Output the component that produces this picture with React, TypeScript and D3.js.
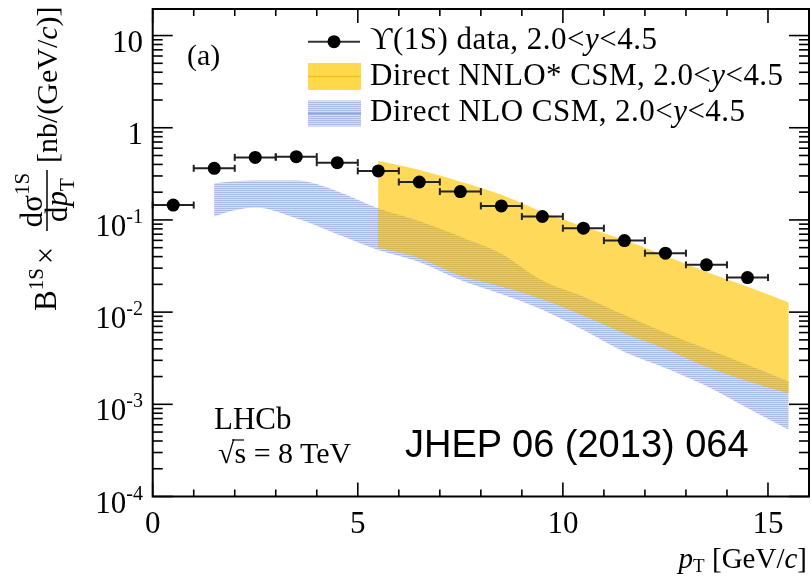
import * as d3 from 'd3';

// Upsilon(1S) data points (bin centres, GeV/c) and measured values
const ptBins = [0.5, 1.5, 2.5, 3.5, 4.5, 5.5, 6.5, 7.5, 8.5, 9.5, 10.5, 11.5, 12.5, 13.5, 14.5];
const ptHalfWidth = 0.5;
const dataValues = [0.145, 0.363, 0.477, 0.486, 0.418, 0.34, 0.258, 0.203, 0.142, 0.109, 0.0813, 0.0597, 0.0436, 0.0326, 0.0237];

// Direct NLO CSM band
const nloPt = [1.5, 2.5, 3.5, 4.5, 5.5, 6.5, 7.5, 8.5, 9.5, 10.5, 11.5, 12.5, 13.5, 14.5, 15.5];
const nloHigh = [0.25, 0.267, 0.267, 0.205, 0.134, 0.0975, 0.0659, 0.043, 0.022, 0.0147, 0.0093, 0.00597, 0.004, 0.00269, 0.00177];
const nloLow = [0.109, 0.136, 0.104, 0.07, 0.0473, 0.035, 0.0223, 0.0157, 0.0106, 0.0064, 0.0037, 0.00248, 0.00158, 0.00091, 0.00053];

// Direct NNLO* CSM band
const nnloPt = [5.5, 6.5, 7.5, 8.5, 9.5, 10.5, 11.5, 12.5, 13.5, 14.5, 15.5];
const nnloHigh = [0.435, 0.348, 0.26, 0.187, 0.122, 0.0846, 0.0607, 0.0407, 0.0273, 0.0188, 0.0127];
const nnloLow = [0.0498, 0.0387, 0.025, 0.019, 0.0138, 0.0092, 0.0059, 0.004, 0.00255, 0.00179, 0.00132];

const xTickValues = [0, 5, 10, 15];
const yTickExponents = [1, 0, -1, -2, -3, -4];

const SERIF = "'Liberation Serif', 'Times New Roman', 'DejaVu Serif', serif";
const SANS = "'Liberation Sans', Arial, sans-serif";

const YELLOW = '#ffd84c';
const BAND_YELLOW = '#ffd030';

export default function App() {
  const width = 812;
  const height = 577;
  const x = d3.scaleLinear().domain([0, 16]).range([152.7, 809]);
  const y = d3.scaleLog().domain([1e-4, Math.pow(10, 1.288)]).range([496.5, 9]);
  const [x0, x1] = x.range();
  const [yb, yt] = y.range();

  const nloArea = d3
    .area<number>()
    .x((d) => x(d))
    .y0((_, i) => y(nloLow[i]))
    .y1((_, i) => y(nloHigh[i]))
    .curve(d3.curveMonotoneX);

  const nnloArea = d3
    .area<number>()
    .x((d) => x(d))
    .y0((_, i) => y(nnloLow[i]))
    .y1((_, i) => y(nnloHigh[i]))
    .curve(d3.curveMonotoneX);

  // minor / major ticks
  const xMinor = d3.range(0, 17).filter((v) => v % 5 !== 0);
  const yMinor: number[] = [];
  for (let e = -4; e <= 1; e++) {
    for (let k = 2; k <= 9; k++) {
      const v = k * Math.pow(10, e);
      if (v < y.domain()[1]) yMinor.push(v);
    }
  }

  const tick = { stroke: '#000', strokeWidth: 1.6 };
  const nnloPath = nnloArea(nnloPt) || '';

  return (
    <svg width={width} height={height} style={{ position: 'absolute', left: 0, top: 0, background: '#fff' }}>
      <defs>
        <pattern id="hatch" width={4} height={2} patternUnits="userSpaceOnUse">
          <rect width={4} height={2} fill="rgb(214,222,243)" />
          <rect width={4} height={1} fill="rgb(168,186,230)" />
        </pattern>
      </defs>
      <rect width={width} height={height} fill="#fff" />

      {/* theory bands: NLO hatch first, NNLO* yellow on top (part multiplied) */}
      <path d={nloArea(nloPt) || ''} fill="url(#hatch)" />
      <path d={nnloPath} fill={BAND_YELLOW} style={{ mixBlendMode: 'multiply' }} opacity={0.6} />
      <path d={nnloPath} fill={BAND_YELLOW} opacity={0.5} />

      {/* data */}
      {ptBins.map((pt, i) => {
        const cy = y(dataValues[i]);
        const xa = x(pt - ptHalfWidth);
        const xb = x(pt + ptHalfWidth);
        return (
          <g key={pt}>
            <line x1={xa} x2={xb} y1={cy} y2={cy} stroke="#222" strokeWidth={2} />
            <line x1={xa} x2={xa} y1={cy - 3.5} y2={cy + 3.5} stroke="#222" strokeWidth={2} />
            <line x1={xb} x2={xb} y1={cy - 3.5} y2={cy + 3.5} stroke="#222" strokeWidth={2} />
            <circle cx={x(pt)} cy={cy} r={6.5} fill="#000" />
          </g>
        );
      })}

      {/* frame */}
      <rect x={x0} y={yt} width={x1 - x0} height={yb - yt} fill="none" stroke="#000" strokeWidth={2} />

      {/* x ticks */}
      {xTickValues.map((v) => (
        <g key={'xm' + v}>
          <line x1={x(v)} x2={x(v)} y1={yb} y2={yb - 14} {...tick} />
          <line x1={x(v)} x2={x(v)} y1={yt} y2={yt + 14} {...tick} />
          <text x={x(v)} y={533} textAnchor="middle" fontFamily={SERIF} fontSize={31}>
            {v}
          </text>
        </g>
      ))}
      {xMinor.map((v) => (
        <g key={'xn' + v}>
          <line x1={x(v)} x2={x(v)} y1={yb} y2={yb - 7} {...tick} />
          <line x1={x(v)} x2={x(v)} y1={yt} y2={yt + 7} {...tick} />
        </g>
      ))}

      {/* y ticks */}
      {yTickExponents.map((e) => {
        const yy = y(Math.pow(10, e));
        return (
          <g key={'ym' + e}>
            <line x1={x0} x2={x0 + 20} y1={yy} y2={yy} {...tick} />
            <line x1={x1} x2={x1 - 20} y1={yy} y2={yy} {...tick} />
            {e === 0 || e === 1 ? (
              <text x={143} y={yy + 16} textAnchor="end" fontFamily={SERIF} fontSize={31}>
                {e === 0 ? '1' : '10'}
              </text>
            ) : (
              <text x={143} y={yy + 16} textAnchor="end" fontFamily={SERIF} fontSize={31}>
                10
                <tspan fontSize={20} dy={-13}>
                  {String(e)}
                </tspan>
              </text>
            )}
          </g>
        );
      })}
      {yMinor.map((v) => (
        <g key={'yn' + v}>
          <line x1={x0} x2={x0 + 10} y1={y(v)} y2={y(v)} {...tick} />
          <line x1={x1} x2={x1 - 10} y1={y(v)} y2={y(v)} {...tick} />
        </g>
      ))}

      {/* axis titles */}
      <text x={807} y={568} textAnchor="end" fontFamily={SERIF} fontSize={29}>
        <tspan fontStyle="italic">p</tspan>
        <tspan fontSize={19} dy={4}>T</tspan>
        <tspan dy={-4}> [GeV/</tspan>
        <tspan fontStyle="italic">c</tspan>]
      </text>

      <g transform="rotate(-90)" fontFamily={SERIF}>
        <text x={-311} y={56} fontSize={31}>
          B<tspan fontSize={21} dy={-13}>1S</tspan>
          <tspan dy={13} dx={4}>×</tspan>
        </text>
        <line x1={-231} x2={-170} y1={47} y2={47} stroke="#000" strokeWidth={1.5} />
        <text x={-200} y={42} fontSize={31} textAnchor="middle">
          dσ<tspan fontSize={21} dy={-13}>1S</tspan>
        </text>
        <text x={-200} y={67} fontSize={31} textAnchor="middle">
          d<tspan fontStyle="italic">p</tspan>
          <tspan fontSize={21} dy={7}>T</tspan>
        </text>
        <text x={-163} y={57} fontSize={30}>
          [nb/(GeV/<tspan fontStyle="italic">c</tspan>)]
        </text>
      </g>

      {/* legend */}
      <g fontFamily={SERIF} fontSize={31}>
        <line x1={308} x2={360} y1={41.7} y2={41.7} stroke="#333" strokeWidth={2} />
        <circle cx={334} cy={41.7} r={6.5} fill="#000" />
        <text x={370} y={49} textLength={287} lengthAdjust="spacing">
          ϒ(1S) data, 2.0&lt;<tspan fontStyle="italic">y</tspan>&lt;4.5
        </text>

        <rect x={308} y={63} width={53} height={27} fill={YELLOW} />
        <line x1={308} x2={361} y1={76.5} y2={76.5} stroke="#f2c21a" strokeWidth={1.5} />
        <text x={370} y={85} textLength={413} lengthAdjust="spacing">
          Direct NNLO* CSM, 2.0&lt;<tspan fontStyle="italic">y</tspan>&lt;4.5
        </text>

        <rect x={308} y={100.5} width={53} height={26} fill="url(#hatch)" />
        <line x1={308} x2={361} y1={113.5} y2={113.5} stroke="#8ea6dc" strokeWidth={1.5} />
        <text x={370} y={121} textLength={375} lengthAdjust="spacing">
          Direct NLO CSM, 2.0&lt;<tspan fontStyle="italic">y</tspan>&lt;4.5
        </text>
      </g>

      {/* labels */}
      <text x={187} y={65} fontFamily={SERIF} fontSize={30}>
        (a)
      </text>
      <text x={214} y={429} fontFamily={SERIF} fontSize={31}>
        LHCb
      </text>
      <text x={218} y={463} fontFamily={SERIF} fontSize={30}>
        √s = 8 TeV
      </text>
      <line x1={232} x2={244} y1={440} y2={440} stroke="#000" strokeWidth={1.2} />
      <text x={405} y={457} fontFamily={SANS} fontSize={38}>
        JHEP 06 (2013) 064
      </text>
    </svg>
  );
}
